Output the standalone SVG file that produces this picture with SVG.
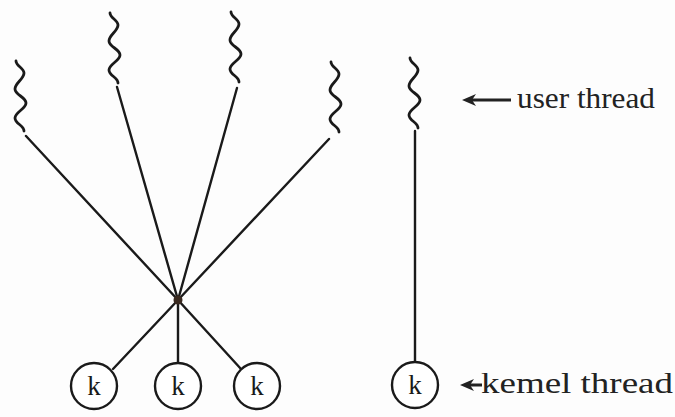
<svg xmlns="http://www.w3.org/2000/svg" width="675" height="417" viewBox="0 0 675 417">
<style>
.ln{stroke:#1a1a1a;stroke-width:2.4;fill:none;stroke-linecap:round}
.wv{stroke:#1a1a1a;stroke-width:2.8;fill:none;stroke-linecap:round}
.kc{fill:#fff;stroke:#1a1a1a;stroke-width:2.4}
.kt{font-family:'Liberation Serif','Times New Roman',Tinos,serif;font-size:27px;fill:#1a1a1a;text-anchor:middle}
.lb{font-family:'Liberation Serif','Times New Roman',Tinos,serif;font-size:29px;fill:#222}
.ah{fill:#222}
</style>
<defs>
<path id="wave" d="M-4,0 C-4,5 4,7 4,12 C4,18 -5,22 -5,28 C-5,34 6,36 6,42 C6,48 -5,51 -5,57 C-5,63 4,64 4,70"/>
</defs>
<rect width="675" height="417" fill="#fdfdfd"/>
<g id="connectors">
<line class="ln" x1="26" y1="136" x2="178" y2="300"/>
<line class="ln" x1="117" y1="87" x2="178" y2="300"/>
<line class="ln" x1="237" y1="88" x2="178" y2="300"/>
<line class="ln" x1="329" y1="139" x2="178" y2="300"/>
<line class="ln" x1="178" y1="300" x2="113" y2="369"/>
<line class="ln" x1="178" y1="300" x2="178" y2="363"/>
<line class="ln" x1="178" y1="300" x2="241" y2="369"/>
<line class="ln" x1="415" y1="131" x2="415" y2="362"/>
<circle cx="178" cy="300" r="4.5" fill="#3a2a20"/>
</g>
<g id="user1"><use href="#wave" class="wv" transform="translate(20,61)"/></g>
<g id="user2"><use href="#wave" class="wv" transform="translate(114,13)"/></g>
<g id="user3"><use href="#wave" class="wv" transform="translate(235,12)"/></g>
<g id="user4"><use href="#wave" class="wv" transform="translate(335,62)"/></g>
<g id="user5"><use href="#wave" class="wv" transform="translate(414,58)"/></g>
<g id="k1"><circle class="kc" cx="94" cy="386" r="23"/><text class="kt" x="94" y="395">k</text></g>
<g id="k2"><circle class="kc" cx="178" cy="386" r="23"/><text class="kt" x="178" y="395">k</text></g>
<g id="k3"><circle class="kc" cx="257" cy="386" r="23"/><text class="kt" x="257" y="395">k</text></g>
<g id="k4"><circle class="kc" cx="415" cy="385" r="23"/><text class="kt" x="415" y="394">k</text></g>
<g id="label-user">
<line x1="470" y1="100" x2="511" y2="100" stroke="#222" stroke-width="3"/>
<path class="ah" d="M462,100 L476,94 L472,100 L476,106 z"/>
<text class="lb" x="517" y="108" textLength="138" lengthAdjust="spacingAndGlyphs">user thread</text>
</g>
<g id="label-kernel">
<line x1="468" y1="385" x2="482" y2="385" stroke="#222" stroke-width="3"/>
<path class="ah" d="M460,385 L474,379 L470,385 L474,391 z"/>
<text class="lb" x="481" y="393" textLength="192" lengthAdjust="spacingAndGlyphs">kemel thread</text>
</g>
</svg>
